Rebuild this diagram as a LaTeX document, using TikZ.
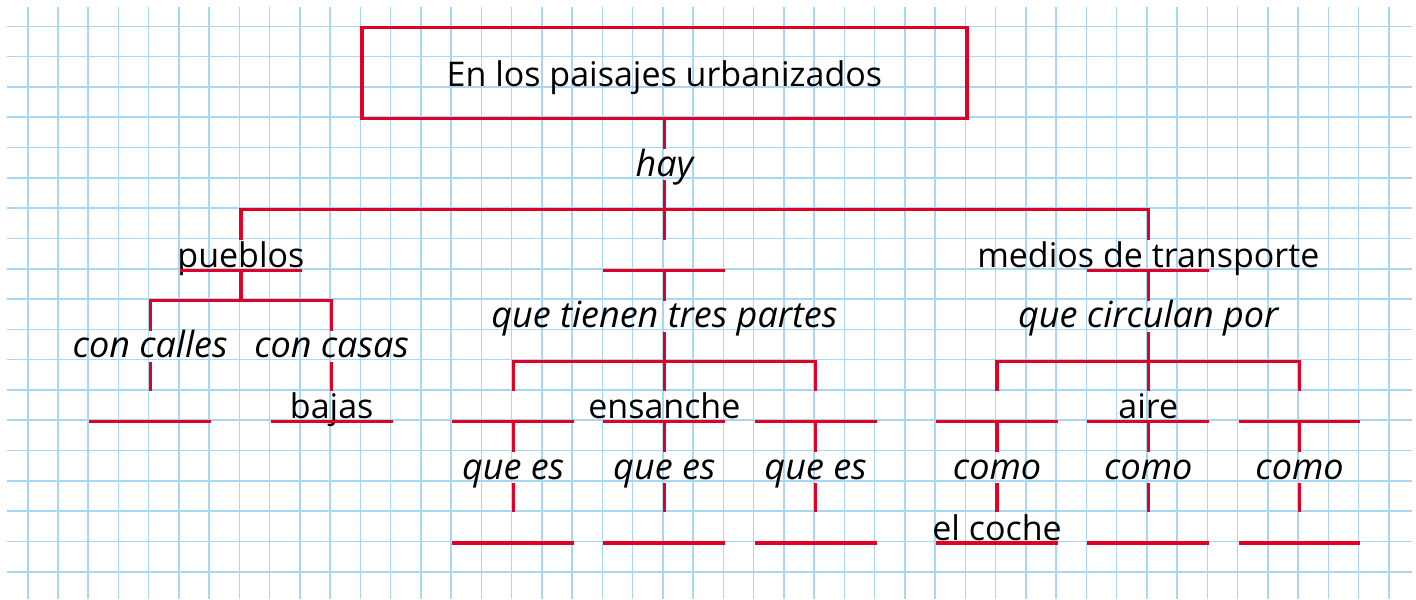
\documentclass[tikz,border=0pt]{standalone}
\usepackage{fontspec}
\setmainfont{Open Sans}
\definecolor{rojo}{RGB}{226,0,36}
\definecolor{cuadro}{RGB}{168,215,243}
\newcommand{\letra}{\fontsize{17}{20}\selectfont}
\newcommand{\letrait}{\fontsize{18}{21}\selectfont\itshape}

\begin{document}
\begin{tikzpicture}[x=15.12pt, y=-15.15pt,
    rl/.style={rojo, line width=1.65pt},
    corto/.style={shorten >=15.15pt},
    caja/.style={draw=rojo, line width=1.65pt, minimum width=302.4pt, minimum height=45.45pt, inner sep=0pt, text depth=0pt, font=\letra},
    nexo/.style={anchor=north, inner sep=0pt, text height=13.3pt, text depth=1.8pt, font=\letrait},
    hueco/.style={inner sep=0pt, minimum width=60.48pt, minimum height=0pt},
    palabra/.style={anchor=base, inner sep=0pt, yshift=1.5pt, font=\letra}]
	
	% 1. 方格背景
	\useasboundingbox (-0.916,-0.868) rectangle (45.9,18.9);
	\foreach \k in {0,...,45} \draw[cuadro, line width=0.8pt] (\k,-0.637) -- (\k,18.9);
	\foreach \j in {0,...,18} \draw[cuadro, line width=0.8pt] (-0.685,\j) -- (45.78,\j);
	
	\begin{scope}[xshift=0.75pt, yshift=-0.75pt]
	% 2. 标题与第一层
	\node[caja] (titulo) at (21,1.5) {En los paisajes urbanizados};
	\node[nexo] (hay) at (21,4) {hay};
	\draw[rl] (titulo.south) -- (hay.north);
	
	\node[hueco] (sPueblos) at (7,8) {};
	\node[hueco] (sHay) at (21,8) {};
	\node[hueco] (sMedios) at (37,8) {};
	\coordinate (bar1) at (21,6);
	\draw[rl, corto] (hay.south) -- (sHay);
	\draw[rl, corto] (bar1) -| (sPueblos);
	\draw[rl, corto] (bar1) -| (sMedios);
	\node[palabra] (pueblos) at (sPueblos) {pueblos};
	\node[palabra] (medios) at (sMedios) {medios de transporte};
	
	% 3. 左：pueblos
	\coordinate (bar2) at (7,9);
	\node[nexo] (calles) at (4,10) {con calles};
	\node[nexo] (casas) at (10,10) {con casas};
	\draw[rl] (sPueblos) -- (bar2);
	\draw[rl] (bar2) -| (calles.north);
	\draw[rl] (bar2) -| (casas.north);
	\node[hueco] (sCalles) at (4,13) {};
	\node[hueco] (sCasas) at (10,13) {};
	\draw[rl, corto] (calles.south) -- (sCalles);
	\draw[rl, corto] (casas.south) -- (sCasas);
	\node[palabra] (bajas) at (sCasas) {bajas};
	
	% 4. 中：que tienen tres partes
	\node[nexo] (partes) at (21,9) {que tienen tres partes};
	\draw[rl] (sHay) -- (partes.north);
	\coordinate (bar3) at (21,11);
	\node[hueco] (sParte1) at (16,13) {};
	\node[hueco] (sParte2) at (21,13) {};
	\node[hueco] (sParte3) at (26,13) {};
	\draw[rl, corto] (partes.south) -- (sParte2);
	\draw[rl, corto] (bar3) -| (sParte1);
	\draw[rl, corto] (bar3) -| (sParte3);
	\node[palabra] (ensanche) at (sParte2) {ensanche};
	\foreach \i/\x in {1/16, 2/21, 3/26} {
		\node[nexo] (quees\i) at (\x,14) {que es};
		\node[hueco] (sQue\i) at (\x,17) {};
		\draw[rl] (sParte\i) -- (quees\i.north);
		\draw[rl, corto] (quees\i.south) -- (sQue\i);
	}
	
	% 5. 右：medios de transporte
	\node[nexo] (circulan) at (37,9) {que circulan por};
	\draw[rl] (sMedios) -- (circulan.north);
	\coordinate (bar4) at (37,11);
	\node[hueco] (sVia1) at (32,13) {};
	\node[hueco] (sVia2) at (37,13) {};
	\node[hueco] (sVia3) at (42,13) {};
	\draw[rl, corto] (circulan.south) -- (sVia2);
	\draw[rl, corto] (bar4) -| (sVia1);
	\draw[rl, corto] (bar4) -| (sVia3);
	\node[palabra] (aire) at (sVia2) {aire};
	\foreach \i/\x in {1/32, 2/37, 3/42} {
		\node[nexo] (como\i) at (\x,14) {como};
		\node[hueco] (sComo\i) at (\x,17) {};
		\draw[rl] (sVia\i) -- (como\i.north);
		\draw[rl, corto] (como\i.south) -- (sComo\i);
	}
	\node[palabra] (coche) at (sComo1) {el coche};
	
	% 6. 空白横线
	\foreach \n in {sPueblos, sHay, sMedios, sCalles, sCasas, sParte1, sParte2, sParte3,
		sQue1, sQue2, sQue3, sVia1, sVia2, sVia3, sComo1, sComo2, sComo3}
		\draw[rl] (\n.west) -- (\n.east);
	\end{scope}
\end{tikzpicture}
\end{document}
